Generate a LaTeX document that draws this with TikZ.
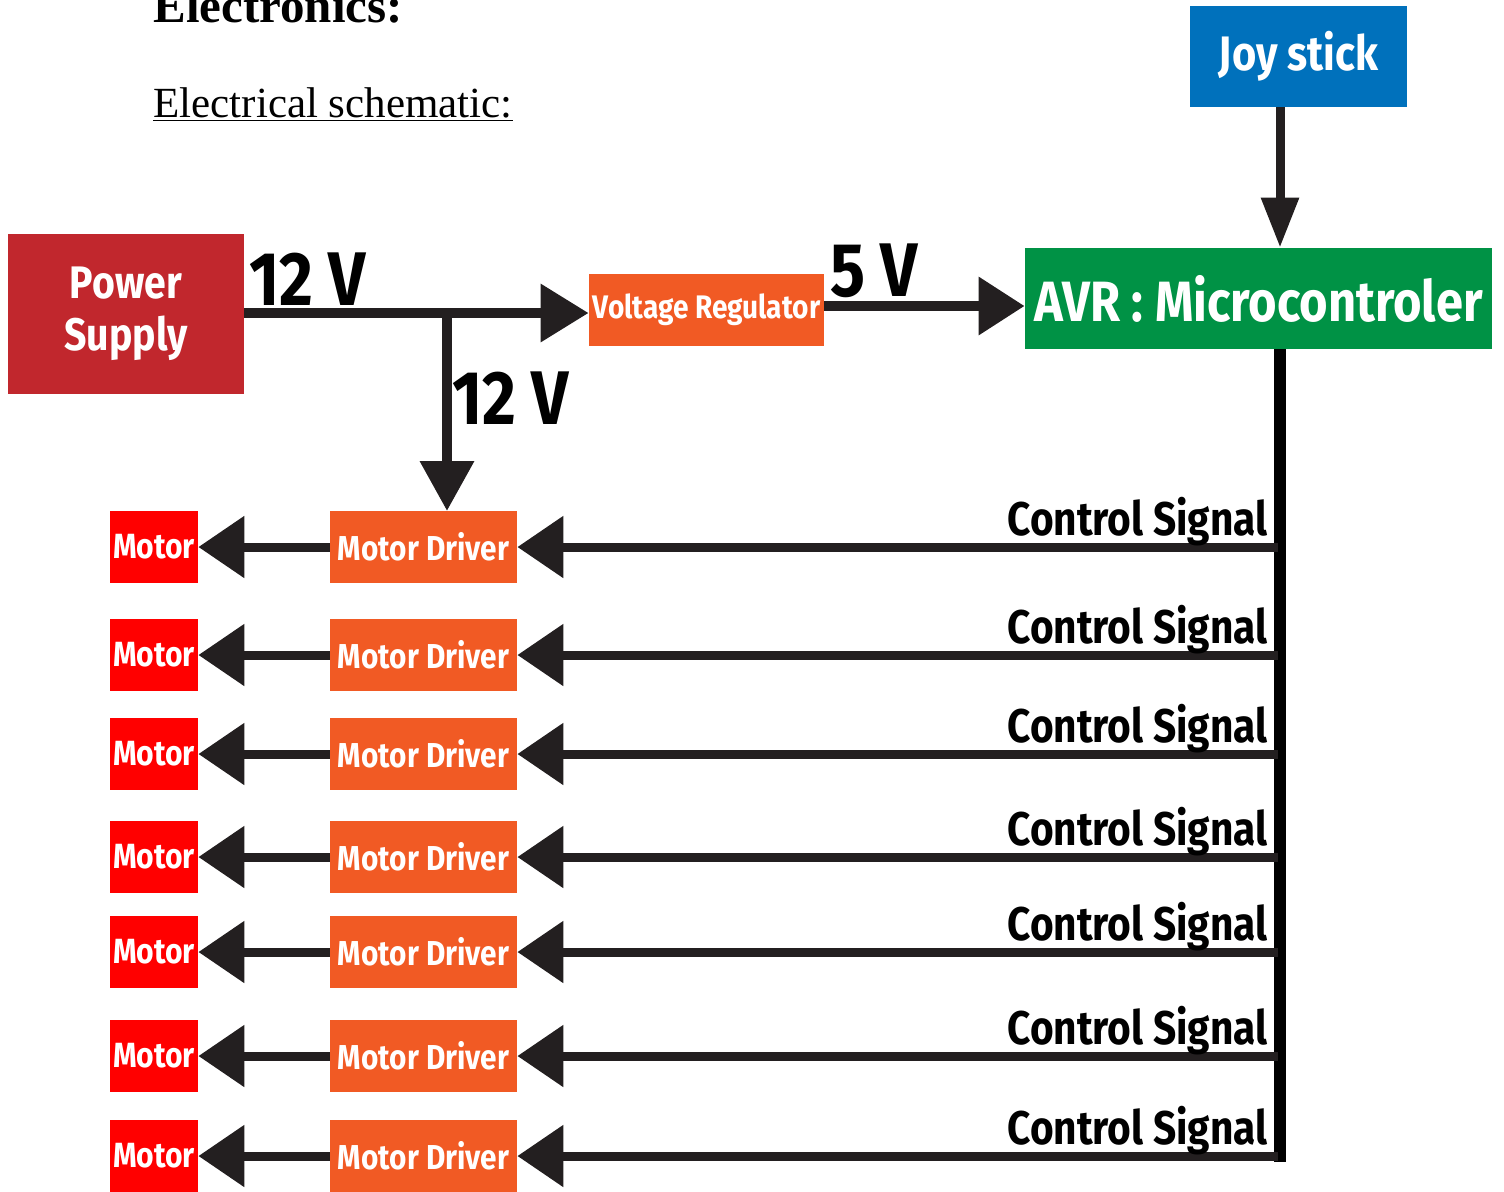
\documentclass[tikz,border=0pt]{standalone}
\usepackage{fontspec}
\setmainfont{Liberation Serif}
\newfontfamily\blockfont[FakeStretch=0.86]{Fira Sans}
\usetikzlibrary{arrows.meta}
\definecolor{psred}{HTML}{C1272D}
\definecolor{regorange}{HTML}{F15A24}
\definecolor{avrgreen}{HTML}{009245}
\definecolor{joyblue}{HTML}{0071BC}
\definecolor{motorred}{HTML}{FF0000}
\definecolor{wire}{HTML}{231F20}

\begin{document}
\begin{tikzpicture}[line join=miter,x=0.5pt,y=-0.5pt,
  block/.style={inner sep=0pt,text=white,align=center,font=\blockfont\bfseries},
  drvbox/.style={block,fill=regorange,minimum width=93.5pt,minimum height=36pt,font=\blockfont\bfseries\fontsize{17.3}{20}\selectfont},
  motbox/.style={block,fill=motorred,minimum width=44pt,minimum height=36pt,font=\blockfont\bfseries\fontsize{17.5}{20}\selectfont},
  volt/.style={inner sep=0pt,font=\blockfont\bfseries\fontsize{38}{40}\selectfont},
  ctllabel/.style={inner sep=0pt,anchor=base east,font=\blockfont\bfseries\fontsize{23.6}{26}\selectfont},
  pwr/.style={draw=wire,line width=5pt,-{Triangle[length=24pt,width=28pt]}},
  sig/.style={draw=wire,line width=4.5pt,-{Triangle[length=23pt,width=30pt]}},
  bus/.style={draw=black,line width=6pt}]
\useasboundingbox (0,0) rectangle (1504,1191);

% headings
\node[anchor=base west,inner sep=0pt,font=\bfseries\fontsize{24.5}{26}\selectfont] (head) at (153,22) {Electronics:};
\node[anchor=base west,inner sep=0pt,font=\fontsize{21.5}{24}\selectfont] (sub) at (153,117) {\underline{Electrical schematic:}};

% blocks
\node[block,fill=psred,minimum width=118pt,minimum height=80pt,font=\blockfont\bfseries\fontsize{22.8}{26}\selectfont] (ps) at (126,314) {Power\\Supply};
\node[block,fill=regorange,minimum width=117.5pt,minimum height=36pt,font=\blockfont\bfseries\fontsize{16.3}{18}\selectfont] (vr) at (706.5,310) {Voltage Regulator};
\node[block,fill=avrgreen,minimum width=233.5pt,minimum height=50.5pt,font=\blockfont\bfseries\fontsize{28.4}{30}\selectfont] (avr) at (1258.5,298.5) {AVR : Microcontroler};
\node[block,fill=joyblue,minimum width=108.5pt,minimum height=50.5pt,font=\blockfont\bfseries\fontsize{24.2}{26}\selectfont] (joy) at (1298.5,56.5) {Joy stick};

\coordinate (split) at (447,313);
\coordinate (bustop) at (1280,349);
\coordinate (busend) at (1280,1162);

% power
\draw[pwr] (ps.east |- split) -- (split -| vr.west);
\node[volt,anchor=south west] (v12a) at (249,306) {12 V};
\draw[pwr,-{Triangle[length=25pt,width=26pt]}] (split) -- (447,511);
\node[volt,anchor=south west] (v12b) at (452,425) {12 V};
\draw[pwr,-{Triangle[length=23pt,width=28pt]}] (vr.east |- 0,306) -- (avr.west |- 0,306);
\node[volt,anchor=south west] (v5) at (830,298) {5 V};
\draw[pwr,line width=4.5pt,-{Triangle[length=25pt,width=18pt]}] (joy.south -| bustop) -- (avr.north -| bustop);

% control bus
\draw[bus] (bustop) -- (busend);
\foreach \yy [count=\i] in {547,655,754,857,952,1056,1156} {
  \node[drvbox] (drv\i) at (423.5,\yy) {Motor Driver};
  \node[motbox] (mot\i) at (154,\yy) {Motor};
  \coordinate (tap\i) at (1278,\yy);
  \draw[sig] (tap\i) -- (drv\i.east);
  \draw[sig] (drv\i.west) -- (mot\i.east);
  \node[ctllabel] (lbl\i) at (1268,\yy-12) {Control Signal};
}
\end{tikzpicture}
\end{document}
